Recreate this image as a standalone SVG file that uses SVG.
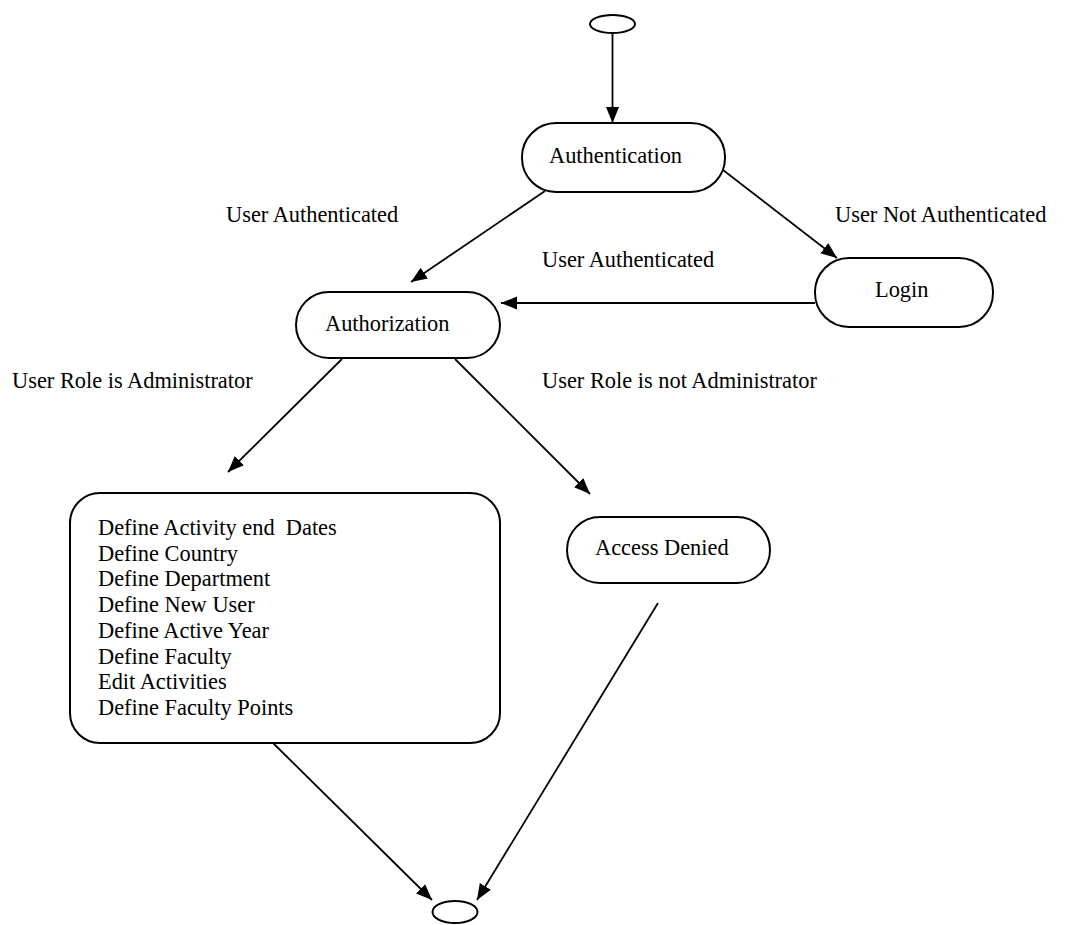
<svg xmlns="http://www.w3.org/2000/svg" width="1086" height="925" viewBox="0 0 1086 925">
<style>
.n{fill:#fff;stroke:#000;stroke-width:2}
.t{font-family:'Liberation Serif','Tinos','Nimbus Roman','DejaVu Serif',serif;font-size:22.4px;fill:#000}
.c{stroke:#000;stroke-width:1.8;fill:none;marker-end:url(#ah)}
</style>
<defs>
<marker id="ah" markerUnits="userSpaceOnUse" markerWidth="18" markerHeight="15" refX="16" refY="6.5" orient="auto">
<path d="M0,0 L16,6.5 L0,13 Z" fill="#000"/>
</marker>
</defs>
<rect width="1086" height="925" fill="#fff"/>
<g id="connectors">
<line class="c" x1="612.5" y1="33" x2="612.5" y2="123"/>
<line class="c" x1="545" y1="191" x2="411" y2="282"/>
<line class="c" x1="723" y1="170" x2="837" y2="258"/>
<line class="c" x1="815" y1="303" x2="501" y2="303"/>
<line class="c" x1="342" y1="359" x2="228" y2="472"/>
<line class="c" x1="455" y1="359" x2="590" y2="494"/>
<line class="c" x1="273" y1="743" x2="432" y2="900"/>
<line class="c" x1="658" y1="603" x2="477" y2="900"/>
</g>
<g id="labels">
<text class="t" x="226" y="222">User Authenticated</text>
<text class="t" x="835" y="222">User Not Authenticated</text>
<text class="t" x="542" y="267">User Authenticated</text>
<text class="t" x="12" y="388">User Role is Administrator</text>
<text class="t" x="542" y="388">User Role is not Administrator</text>
</g>
<g id="start"><ellipse class="n" cx="612.5" cy="24" rx="22.5" ry="9"/></g>
<g id="authentication">
<rect class="n" x="522" y="123" width="203" height="69" rx="34" ry="34"/>
<text class="t" x="549" y="163">Authentication</text>
</g>
<g id="authorization">
<rect class="n" x="296" y="292" width="204" height="66" rx="33" ry="33"/>
<text class="t" x="325" y="331">Authorization</text>
</g>
<g id="login">
<rect class="n" x="815" y="258" width="178" height="69" rx="34" ry="34"/>
<text class="t" x="875" y="297">Login</text>
</g>
<g id="admin">
<rect class="n" x="70" y="493" width="430" height="250" rx="30" ry="30"/>
<text class="t" x="98" y="535" xml:space="preserve">Define Activity end  Dates</text>
<text class="t" x="98" y="560.7">Define Country</text>
<text class="t" x="98" y="586.4">Define Department</text>
<text class="t" x="98" y="612.1">Define New User</text>
<text class="t" x="98" y="637.8">Define Active Year</text>
<text class="t" x="98" y="663.5">Define Faculty</text>
<text class="t" x="98" y="689.2">Edit Activities</text>
<text class="t" x="98" y="715">Define Faculty Points</text>
</g>
<g id="denied">
<rect class="n" x="567" y="517" width="203" height="66" rx="33" ry="33"/>
<text class="t" x="595" y="555">Access Denied</text>
</g>
<g id="end"><ellipse class="n" cx="455" cy="912" rx="22.5" ry="11"/></g>
</svg>
